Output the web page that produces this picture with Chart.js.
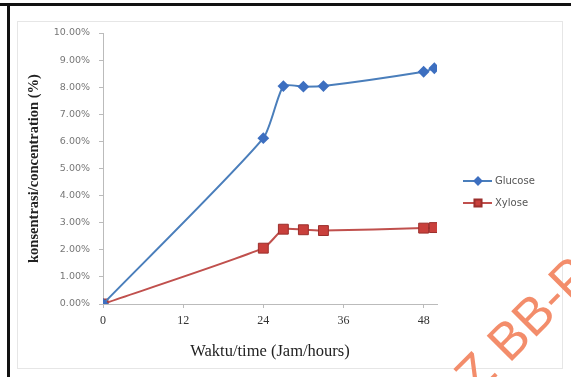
<!DOCTYPE html>
<html>
<head>
<meta charset="utf-8">
<script src="https://cdn.jsdelivr.net/npm/chart.js@4"></script>
<style>
  html, body { margin: 0; padding: 0; background: #fff; }
  #wrap { width: 571px; height: 377px; }
</style>
</head>
<body>
<div id="wrap"><canvas id="chart" width="571" height="377"></canvas></div>
<script>
// hours and concentrations (%)
const glucoseHours = [0, 24, 27, 30, 33, 48, 49.6];
const glucoseValues = [0, 6.12, 8.04, 8.02, 8.04, 8.57, 8.70];
const xyloseHours = [0, 24, 27, 30, 33, 48, 49.6];
const xyloseValues = [0, 2.06, 2.76, 2.74, 2.71, 2.80, 2.82];
const xTicks = [0, 12, 24, 36, 48];
const yTicks = [0, 1, 2, 3, 4, 5, 6, 7, 8, 9, 10];
const seriesNames = ["Glucose", "Xylose"];

const toPoints = (xs, ys) => xs.map((x, i) => ({ x: x, y: ys[i] }));

// black frame, faint inner box and the watermark
const framePlugin = {
    id: "frame",
    beforeDraw(chart) {
        const ctx = chart.ctx;
        ctx.save();
        ctx.fillStyle = "#fff";
        ctx.fillRect(0, 0, chart.width, chart.height);
        ctx.strokeStyle = "#e6e6e6";
        ctx.lineWidth = 1;
        ctx.strokeRect(17.5, 21.5, 545, 347);
        ctx.fillStyle = "#111";
        ctx.fillRect(0, 3, chart.width, 3);
        ctx.fillRect(7, 3, 3, chart.height);
        ctx.restore();
    },
    afterDraw(chart) {
        const ctx = chart.ctx;
        ctx.save();
        ctx.translate(509, 364);
        ctx.rotate(-Math.PI / 4);
        ctx.fillStyle = "#f38d6b";
        ctx.font = "52px 'Liberation Sans', sans-serif";
        ctx.textAlign = "right";
        ctx.fillText("Z ", 0, 0);
        ctx.textAlign = "left";
        ctx.fillText("BB-PPT", 0, 0);
        ctx.restore();
    }
};

// excel-style legend: line with marker, then the name
const legendPlugin = {
    id: "sideLegend",
    afterDraw(chart) {
        const ctx = chart.ctx;
        ctx.save();
        chart.data.datasets.forEach((ds, i) => {
            const y = 181 + i * 22;
            ctx.strokeStyle = ds.borderColor;
            ctx.lineWidth = 2;
            ctx.beginPath();
            ctx.moveTo(463, y);
            ctx.lineTo(492, y);
            ctx.stroke();
            ctx.fillStyle = ds.pointBackgroundColor;
            ctx.strokeStyle = ds.pointBorderColor;
            Chart.helpers.drawPoint(ctx, {
                pointStyle: ds.pointStyle,
                radius: i === 0 ? 3.5 : 5,
                borderWidth: 1
            }, 478, y);
            ctx.fillStyle = "#555";
            ctx.font = "10px 'DejaVu Sans', sans-serif";
            ctx.textBaseline = "middle";
            ctx.fillText(ds.label, 495, y);
        });
        ctx.restore();
    }
};

const ctx = document.getElementById("chart").getContext("2d");

new Chart(ctx, {
    type: "line",
    data: {
        datasets: [
            {
                label: seriesNames[0],
                data: toPoints(glucoseHours, glucoseValues),
                borderColor: "#4a7ebb",
                backgroundColor: "#3d6fc0",
                pointBackgroundColor: "#3d6fc0",
                pointBorderColor: "#3d6fc0",
                pointStyle: "rectRot",
                pointRadius: 4.5,
                borderWidth: 2,
                tension: 0.2
            },
            {
                label: seriesNames[1],
                data: toPoints(xyloseHours, xyloseValues),
                borderColor: "#c0504d",
                backgroundColor: "#c0504d",
                pointBackgroundColor: "#c9403c",
                pointBorderColor: "#9b2f2c",
                pointStyle: "rect",
                pointRadius: 7,
                pointBorderWidth: 1,
                borderWidth: 2,
                tension: 0.2
            }
        ]
    },
    options: {
        responsive: false,
        animation: false,
        layout: { padding: { left: 8, top: 33, right: 134, bottom: 0 } },
        plugins: {
            legend: { display: false },
            tooltip: { enabled: false }
        },
        scales: {
            x: {
                type: "linear",
                min: 0,
                max: 50,
                afterBuildTicks: axis => { axis.ticks = xTicks.map(v => ({ value: v })); },
                afterFit: axis => { axis.height = 73; },
                grid: { drawOnChartArea: false, tickLength: 4, color: "#bbb" },
                border: { color: "#bbb", width: 1 },
                ticks: {
                    padding: 6,
                    color: "#333",
                    font: { family: "'Liberation Serif', serif", size: 12 }
                },
                title: {
                    display: true,
                    text: "Waktu/time (Jam/hours)",
                    color: "#222",
                    padding: { top: 0, bottom: 15 },
                    font: { family: "'Liberation Serif', serif", size: 16.5 }
                }
            },
            y: {
                min: 0,
                max: 10,
                afterBuildTicks: axis => { axis.ticks = yTicks.map(v => ({ value: v })); },
                afterFit: axis => { axis.width = 95; },
                grid: { drawOnChartArea: false, tickLength: 4, color: "#bbb" },
                border: { color: "#bbb", width: 1 },
                ticks: {
                    padding: 9,
                    color: "#777",
                    font: { family: "'DejaVu Sans', sans-serif", size: 9.5 },
                    callback: v => v.toFixed(2) + "%"
                },
                title: {
                    display: true,
                    text: "konsentrasi/concentration (%)",
                    color: "#222",
                    padding: { top: 18, bottom: 0 },
                    font: { family: "'Liberation Serif', serif", size: 14.5, weight: "bold" }
                }
            }
        }
    },
    plugins: [framePlugin, legendPlugin]
});
</script>
</body>
</html>
